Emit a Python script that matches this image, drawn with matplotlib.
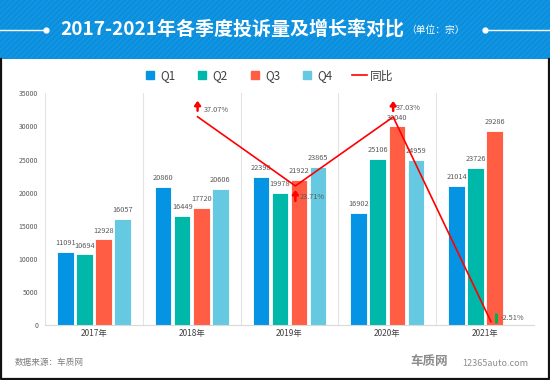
import numpy as np
import matplotlib
matplotlib.use('Agg')
import matplotlib.pyplot as plt
from matplotlib.patches import Rectangle
from matplotlib.lines import Line2D

plt.rcParams['font.family'] = ['Noto Sans CJK SC', 'DejaVu Sans']
plt.rcParams['hatch.linewidth'] = 1.0

# data
years = ['2017年', '2018年', '2019年', '2020年', '2021年']
q1 = [11091, 20860, 22398, 16902, 21014]
q2 = [10694, 16449, 19978, 25106, 23726]
q3 = [12928, 17720, 21922, 30040, 29286]
q4 = [16057, 20606, 23865, 24959, np.nan]   # no Q4 yet for 2021
yoy_years = ['2018年', '2019年', '2020年', '2021年']
yoy = [37.07, 23.71, 37.03, -2.51]

colors = ['#0494E3', '#00B8A9', '#FF5E45', '#66C9E2']
labels = ['Q1', 'Q2', 'Q3', 'Q4']
grey = '#595959'

W, H = 550, 380
fig = plt.figure(figsize=(W / 100, H / 100), dpi=100)
fig.patch.set_facecolor('white')

# title bar
fig.add_artist(Rectangle((0, 1 - 59 / H), 1, 59 / H, transform=fig.transFigure,
                         facecolor='#0a8fdf', edgecolor='#1797e2', hatch='//////', lw=0))
fig.text(60 / W, 1 - 30 / H, '2017-2021年各季度投诉量及增长率对比', color='white',
         fontsize=13.7, fontweight='bold', ha='left', va='center')
fig.text(406 / W, 1 - 30 / H, '（单位：宗）', color='white', fontsize=7,
         ha='left', va='center')
fig.add_artist(Line2D([0, 46 / W], [1 - 30 / H] * 2, color='white', lw=1, transform=fig.transFigure))
fig.add_artist(Line2D([485 / W, 1], [1 - 30 / H] * 2, color='white', lw=1, transform=fig.transFigure))
fig.add_artist(Line2D([46 / W, 485 / W], [1 - 30 / H] * 2, color='white', lw=0, marker='o',
                      markersize=3.5, transform=fig.transFigure))

# frame round the white panel
fig.add_artist(Line2D([1 / W, 1 / W, 549 / W, 549 / W], [1 - 59 / H, 1.5 / H, 1.5 / H, 1 - 59 / H],
                      color='#111111', lw=1.6, transform=fig.transFigure))

ax = fig.add_axes([45 / W, 1 - 325 / H, 489 / W, 231.7 / H])
x = np.arange(len(years))
width = 0.17
step = 0.195
for k, (vals, c) in enumerate(zip([q1, q2, q3, q4], colors)):
    pos = x + (k - 1.5) * step
    ax.bar(pos, vals, width, color=c, edgecolor='white', lw=0.6, zorder=2)
    for px, v in zip(pos, vals):
        if not np.isnan(v):
            ax.text(px, v + 700, f'{int(v)}', ha='center', va='bottom', fontsize=5.3, color=grey)

ax.set_xlim(-0.5, 4.5)
ax.set_ylim(0, 35000)
ax.set_yticks(np.arange(0, 35001, 5000))
ax.set_xticks(x)
ax.set_xticklabels(years)
ax.tick_params(axis='y', length=0, labelsize=5, labelcolor=grey, pad=5)
ax.tick_params(axis='x', length=0, labelsize=6, labelcolor='#404040', pad=3)
for s in ['top', 'right', 'left']:
    ax.spines[s].set_visible(False)
ax.spines['bottom'].set_color('#d9d9d9')
for b in np.arange(-0.5, 5, 1):
    ax.axvline(b, color='#e3e3e3', lw=0.8, zorder=0)

# year-on-year line on a hidden secondary axis
ax2 = ax.twinx()
ax2.set_ylim(-3.15, 41.6)
ax2.axis('off')
lx = np.array([years.index(y) for y in yoy_years]) + 0.06
ax2.plot(lx, yoy, color='red', lw=1.2, zorder=5)


def shifted(px, v, dx, dy):
    # data point moved by dx, dy pixels
    t = ax2.transData.transform((px, v))
    return ax2.transData.inverted().transform((t[0] + dx, t[1] + dy))


# (arrow tail, arrow head, label dx, label dy) in pixels from the point
marks = [(6, 16, 6, 7), (-15, -4, 4, -11), (6, 16, 3, 9)]
for px, v, m in zip(lx, yoy, marks + [None]):
    if v >= 0:
        tail, head, tx, ty = m
        ax2.annotate('', xy=shifted(px, v, 0, head), xytext=shifted(px, v, 0, tail),
                     arrowprops=dict(arrowstyle='-|>,head_width=0.22,head_length=0.3',
                                     color='red', lw=1.8, shrinkA=0, shrinkB=0, mutation_scale=8))
    else:
        lo = shifted(px, v, 5, -1)
        hi = shifted(px, v, 5, 9)
        ax2.plot([lo[0], hi[0]], [lo[1], hi[1]], color='#00B050', lw=2.2, solid_capstyle='butt')
        tx, ty = 10, 4
    ax2.annotate(f'{v:.2f}%', xy=(px, v), xytext=(tx, ty), textcoords='offset pixels',
                 fontsize=5.3, color=grey, ha='left', va='center')

# legend
handles = [Line2D([], [], ls='none', marker='s', markersize=6.2, color=c) for c in colors]
handles.append(Line2D([], [], color='red', lw=1.2))
fig.legend(handles, labels + ['同比'], loc='center', bbox_to_anchor=(268 / W, 1 - 76 / H), ncol=5,
           frameon=False, fontsize=8.5, handlelength=1.2, handletextpad=0.25, columnspacing=1.7,
           labelcolor='#404040')

fig.text(15 / W, 1 - 363 / H, '数据来源：车质网', fontsize=6.2, color='#7f7f7f', ha='left', va='center')
fig.text(410 / W, 1 - 362 / H, '车质网', fontsize=9, fontweight='bold', color='#8c8c8c',
         ha='left', va='center', style='italic')
fig.text(462 / W, 1 - 363 / H, '12365auto.com', fontsize=6.5, color='#8c8c8c', ha='left', va='center')

fig.savefig('out.png', dpi=100)
